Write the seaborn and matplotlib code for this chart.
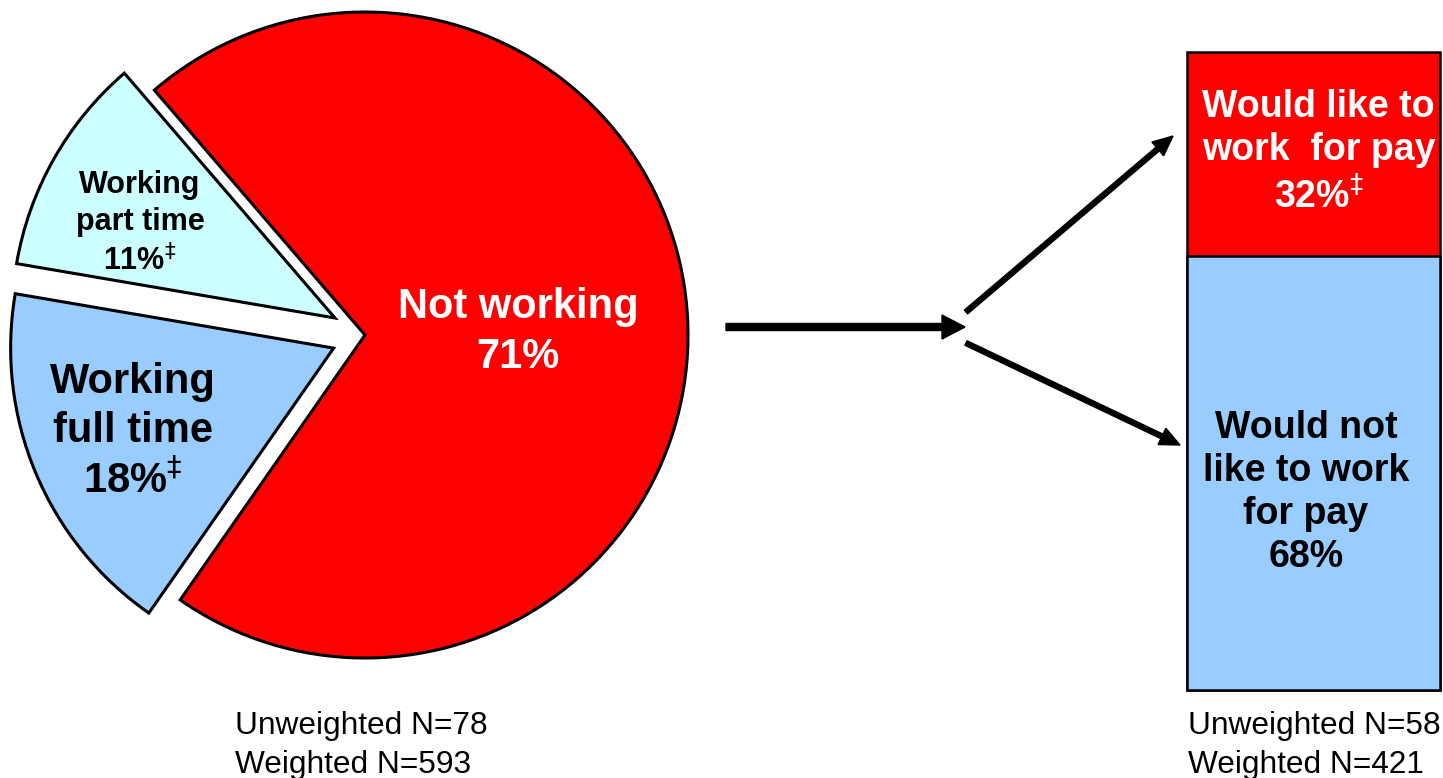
import matplotlib
matplotlib.use("Agg")
import matplotlib.pyplot as plt
from matplotlib.patches import FancyArrow
import seaborn as sns

# pie: employment status
pie_labels = ["Not working", "Working\npart time", "Working\nfull time"]
pie_values = [71, 11, 18]
pie_marks = ["", r"$^{\ddag}$", r"$^{\ddag}$"]
pie_colors = ["#FF0000", "#CCFFFF", "#99CCFF"]

# bar: among those not working
bar_labels = ["Would like to\nwork  for pay", "Would not\nlike to work\nfor pay"]
bar_values = [32, 68]
bar_marks = [r"$^{\ddag}$", ""]
bar_colors = ["#FF0000", "#99CCFF"]

unweighted_n = [78, 58]
weighted_n = [593, 421]

sns.set_style("white")
plt.rcParams['font.family'] = ['Liberation Sans', 'DejaVu Sans']

W, H = 1443, 778
fig = plt.figure(figsize=(W / 100, H / 100), dpi=100)
ax = fig.add_axes([0, 0, 1, 1])


def Y(y):
    # pixel rows counted from the top
    return H - y


# explode is in data units (pixels here)
ax.pie(pie_values, colors=pie_colors, startangle=-124.9, counterclock=True,
       explode=[0, 34.5, 34], center=(365, Y(335)), radius=323,
       wedgeprops=dict(edgecolor="black", linewidth=2.2))
ax.set_xlim(0, W)
ax.set_ylim(0, H)
ax.set_aspect("auto")
ax.axis("off")

# pie labels
ax.text(518, Y(332), f"{pie_labels[0]}\n{pie_values[0]}%{pie_marks[0]}",
        ha="center", va="center", fontsize=30, fontweight="bold", color="white",
        linespacing=1.3)
ax.text(140, Y(224), f"{pie_labels[1]}\n{pie_values[1]}%{pie_marks[1]}",
        ha="center", va="center", fontsize=22, fontweight="bold", color="black",
        linespacing=1.3)
ax.text(133, Y(432), f"{pie_labels[2]}\n{pie_values[2]}%{pie_marks[2]}",
        ha="center", va="center", fontsize=30, fontweight="bold", color="black",
        linespacing=1.3)

# arrows
ax.add_patch(FancyArrow(726, Y(327), 239, 0, width=7, head_width=24, head_length=23,
                        length_includes_head=True, color="black"))
ax.add_patch(FancyArrow(966, Y(312), 207, 312 - 136, width=5, head_width=18,
                        head_length=20, length_includes_head=True, color="black"))
ax.add_patch(FancyArrow(966, Y(343), 214, -(445 - 343), width=5, head_width=18,
                        head_length=20, length_includes_head=True, color="black"))

# N counts
for x, u, w in zip([235, 1188], unweighted_n, weighted_n):
    ax.text(x, Y(726), f"Unweighted N={u}", ha="left", va="center", fontsize=22.8,
            color="black")
    ax.text(x, Y(765), f"Weighted N={w}", ha="left", va="center", fontsize=22.8,
            color="black")

# stacked bar
left, top, right, bottom = 1187, 52, 1440, 690
axb = fig.add_axes([left / W, (H - bottom) / H, (right - left) / W, (bottom - top) / H])
sns.barplot(x=["all"], y=[sum(bar_values)], color=bar_colors[0], saturation=1,
            width=1, edgecolor="black", linewidth=1.8, ax=axb)
sns.barplot(x=["all"], y=[bar_values[1]], color=bar_colors[1], saturation=1,
            width=1, edgecolor="black", linewidth=1.8, ax=axb)
for p in axb.patches:
    p.set_clip_on(False)
axb.set_xlim(-0.5, 0.5)
axb.set_ylim(0, 100)
axb.axis("off")

axb.text(0.02, bar_values[1] + bar_values[0] / 2 + 0.2,
         f"{bar_labels[0]}\n{bar_values[0]}%{bar_marks[0]}",
         ha="center", va="center", fontsize=27, fontweight="bold", color="white",
         linespacing=1.25)
axb.text(-0.03, 31,
         f"{bar_labels[1]}\n{bar_values[1]}%{bar_marks[1]}",
         ha="center", va="center", fontsize=27, fontweight="bold", color="black",
         linespacing=1.25)

plt.savefig("out.png", dpi=100)
